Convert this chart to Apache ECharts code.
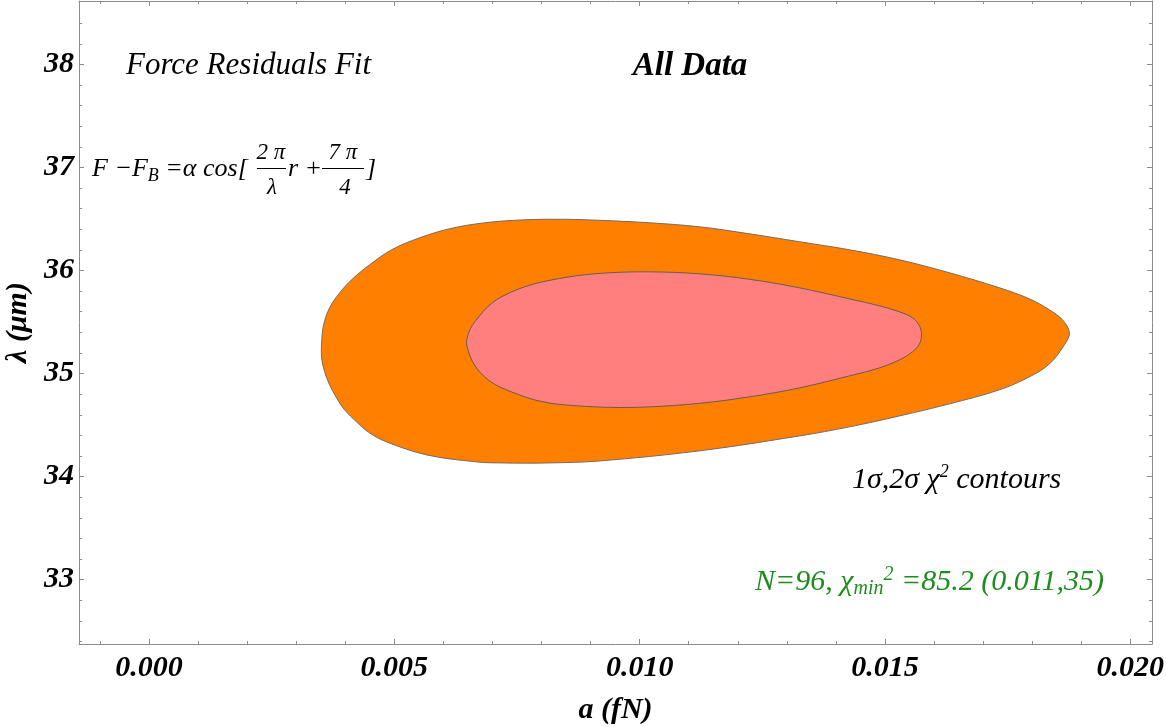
<!DOCTYPE html>
<html><head><meta charset="utf-8">
<script src="https://cdn.jsdelivr.net/npm/echarts@6/dist/echarts.min.js"></script>
<style>html,body{margin:0;padding:0;background:#fff}#c{width:1166px;height:727px}</style>
</head><body><div id="c"></div>
<script>
// ---- data ----
const xMajorTicks = [0, 0.005, 0.010, 0.015, 0.020];
const xMinorTicks = [-0.001, 0.001, 0.002, 0.003, 0.004, 0.006, 0.007, 0.008, 0.009, 0.011, 0.012, 0.013, 0.014, 0.016, 0.017, 0.018, 0.019];
const yMajorTicks = [33, 34, 35, 36, 37, 38];
const yMinorTicks = [32.4, 32.6, 32.8, 33.2, 33.4, 33.6, 33.8, 34.2, 34.4, 34.6, 34.8, 35.2, 35.4, 35.6, 35.8, 36.2, 36.4, 36.6, 36.8, 37.2, 37.4, 37.6, 37.8, 38.2, 38.4];
const xRange = [-0.001426, 0.020442];
const yRange = [32.376, 38.615];

// 2-sigma contour (a in fN, lambda in um)
const contour2Sigma = [
  [0.003519,35.298],[0.003559,35.473],[0.003682,35.638],[0.003886,35.783],[0.004150,35.919],
  [0.004497,36.055],[0.004945,36.201],[0.005515,36.317],[0.006127,36.405],[0.006840,36.463],
  [0.007655,36.492],[0.008470,36.497],[0.009183,36.487],[0.010202,36.463],[0.011220,36.424],
  [0.012239,36.356],[0.013258,36.279],[0.014277,36.201],[0.015295,36.104],[0.016314,35.978],
  [0.017333,35.832],[0.017944,35.725],[0.018352,35.618],[0.018617,35.521],[0.018759,35.395],
  [0.018657,35.279],[0.018352,35.094],[0.017944,34.968],[0.017333,34.842],[0.016314,34.706],
  [0.015295,34.589],[0.014277,34.483],[0.013258,34.395],[0.011220,34.250],[0.009183,34.152],
  [0.008164,34.133],[0.007146,34.133],[0.006677,34.143],[0.005658,34.211],[0.004843,34.337],
  [0.004497,34.424],[0.004232,34.531],[0.003987,34.648],[0.003824,34.764],[0.003682,34.890],
  [0.003580,35.017],[0.003519,35.152]
];
// 1-sigma contour
const contour1Sigma = [
  [0.006473,35.298],[0.006514,35.395],[0.006595,35.473],[0.006738,35.560],[0.006881,35.638],
  [0.007084,35.716],[0.007349,35.783],[0.007655,35.842],[0.008022,35.890],[0.008714,35.949],
  [0.009387,35.978],[0.010202,35.987],[0.011220,35.968],[0.012239,35.915],[0.013258,35.832],
  [0.014277,35.725],[0.014888,35.657],[0.015295,35.599],[0.015561,35.541],[0.015703,35.463],
  [0.015744,35.376],[0.015703,35.288],[0.015561,35.211],[0.015295,35.133],[0.014888,35.055],
  [0.014277,34.978],[0.013258,34.861],[0.012239,34.774],[0.011220,34.711],[0.010202,34.677],
  [0.009387,34.672],[0.008368,34.701],[0.007858,34.745],[0.007492,34.803],[0.007146,34.871],
  [0.006942,34.929],[0.006738,35.017],[0.006595,35.114],[0.006514,35.211]
];

// ---- chart ----
const SERIF = '"Liberation Serif", "DejaVu Serif", serif';
const FRAME = '#8c8c8c';
const labelStyle = {fontFamily: SERIF, fontStyle: 'italic', fontWeight: 'bold', fontSize: 30, color: '#000'};

function xAx(pos, ticks, len, withLabels, withLine) {
  return {
    type: 'value', position: pos, min: xRange[0], max: xRange[1],
    axisLine: {show: withLine, onZero: false, lineStyle: {color: FRAME, width: 1}},
    axisTick: {show: true, inside: true, length: len, customValues: ticks, lineStyle: {color: FRAME, width: 1}},
    axisLabel: withLabels ? Object.assign({show: true, customValues: ticks, margin: 9,
      formatter: v => Number(v).toFixed(3)}, labelStyle) : {show: false},
    splitLine: {show: false}, minorTick: {show: false}
  };
}
function yAx(pos, ticks, len, withLabels, withLine) {
  return {
    type: 'value', position: pos, min: yRange[0], max: yRange[1],
    axisLine: {show: withLine, onZero: false, lineStyle: {color: FRAME, width: 1}},
    axisTick: {show: true, inside: true, length: len, customValues: ticks, lineStyle: {color: FRAME, width: 1}},
    axisLabel: withLabels ? Object.assign({show: true, customValues: ticks, margin: 5,
      formatter: v => String(Math.round(v))}, labelStyle) : {show: false},
    splitLine: {show: false}, minorTick: {show: false}
  };
}

const nameStyle = {fontFamily: SERIF, fontStyle: 'italic', fontWeight: 'bold', fontSize: 30, color: '#000'};
const xAxes = [
  Object.assign(xAx('bottom', xMajorTicks, 5, true, true), {
    name: 'a (fN)', nameLocation: 'middle', nameGap: 51, nameTextStyle: nameStyle
  }),
  xAx('bottom', xMinorTicks, 3, false, false),
  xAx('top', xMajorTicks, 5, false, true),
  xAx('top', xMinorTicks, 3, false, false)
];
const yAxes = [
  Object.assign(yAx('left', yMajorTicks, 5, true, true), {
    name: 'λ (μm)', nameLocation: 'middle', nameGap: 45, nameTextStyle: nameStyle
  }),
  yAx('left', yMinorTicks, 3, false, false),
  yAx('right', yMajorTicks, 5, false, true),
  yAx('right', yMinorTicks, 3, false, false)
];

function contourSeries(name, pts, fill, stroke) {
  return {
    type: 'custom', name: name, xAxisIndex: 0, yAxisIndex: 0,
    data: [pts[0]], silent: true, animation: false,
    renderItem: function (params, api) {
      const points = pts.map(p => api.coord(p));
      return {type: 'polygon', shape: {points: points, smooth: 0.35},
        style: {fill: fill, stroke: stroke, lineWidth: 1}};
    }
  };
}

const mainFont = 'italic 26px ' + SERIF;
const fracFont = 'italic 23px ' + SERIF;
const graphics = [
  {type: 'text', x: 126, y: 66, style: {text: 'Force Residuals Fit', font: 'italic 31px ' + SERIF, fill: '#000', textVerticalAlign: 'middle'}},
  {type: 'text', x: 690, y: 66, style: {text: 'All Data', font: 'italic bold 33px ' + SERIF, fill: '#000', textAlign: 'center', textVerticalAlign: 'middle'}},
  // formula
  {type: 'text', x: 92, y: 169, style: {
    text: '{m|F −F}{s|B}{m| =α cos[}', fill: '#000', textVerticalAlign: 'middle',
    rich: {m: {fontFamily: SERIF, fontStyle: 'italic', fontSize: 26, lineHeight: 32, verticalAlign: 'middle'},
           s: {fontFamily: SERIF, fontStyle: 'italic', fontSize: 18, lineHeight: 18, verticalAlign: 'bottom'}}
  }},
  {type: 'text', x: 271, y: 153, style: {text: '2 π', font: fracFont, fill: '#000', textAlign: 'center', textVerticalAlign: 'middle'}},
  {type: 'line', shape: {x1: 257, y1: 168.5, x2: 286, y2: 168.5}, style: {stroke: '#000', lineWidth: 1}},
  {type: 'text', x: 272, y: 188, style: {text: 'λ', font: fracFont, fill: '#000', textAlign: 'center', textVerticalAlign: 'middle'}},
  {type: 'text', x: 288, y: 169, style: {text: 'r +', font: mainFont, fill: '#000', textVerticalAlign: 'middle'}},
  {type: 'text', x: 343, y: 153, style: {text: '7 π', font: fracFont, fill: '#000', textAlign: 'center', textVerticalAlign: 'middle'}},
  {type: 'line', shape: {x1: 322, y1: 168.5, x2: 364, y2: 168.5}, style: {stroke: '#000', lineWidth: 1}},
  {type: 'text', x: 345, y: 188, style: {text: '4', font: fracFont, fill: '#000', textAlign: 'center', textVerticalAlign: 'middle'}},
  {type: 'text', x: 366, y: 169, style: {text: ']', font: mainFont, fill: '#000', textVerticalAlign: 'middle'}},
  // contour note
  {type: 'text', x: 852, y: 480, style: {
    text: '{t|1σ,2σ χ}{p|2}{t| contours}', fill: '#000', textVerticalAlign: 'middle',
    rich: {t: {fontFamily: SERIF, fontStyle: 'italic', fontSize: 30, lineHeight: 34, verticalAlign: 'middle'},
           p: {fontFamily: SERIF, fontStyle: 'italic', fontSize: 18, lineHeight: 18, verticalAlign: 'top'}}
  }},
  // fit result
  {type: 'text', x: 755, y: 582, style: {
    text: '{t|N=96, χ}{b|min}{p|2}{t| =85.2 (0.011,35)}', fill: '#1e8c1e', textVerticalAlign: 'middle',
    rich: {t: {fontFamily: SERIF, fontStyle: 'italic', fontSize: 30, lineHeight: 34, verticalAlign: 'middle', color: '#1e8c1e'},
           b: {fontFamily: SERIF, fontStyle: 'italic', fontSize: 20, lineHeight: 20, verticalAlign: 'bottom', color: '#1e8c1e'},
           p: {fontFamily: SERIF, fontStyle: 'italic', fontSize: 20, lineHeight: 20, verticalAlign: 'top', color: '#1e8c1e'}}
  }}
];

const chart = echarts.init(document.getElementById('c'), null, {renderer: 'canvas'});
chart.setOption({
  animation: false,
  backgroundColor: '#fff',
  grid: {left: 79, right: 14, top: 1, bottom: 83, containLabel: false, outerBoundsMode: 'none'},
  xAxis: xAxes,
  yAxis: yAxes,
  series: [
    contourSeries('2σ', contour2Sigma, '#FF8000', '#7a6a60'),
    contourSeries('1σ', contour1Sigma, '#FF7F7F', '#6a5a55')
  ],
  graphic: graphics
});
</script>
</body></html>
